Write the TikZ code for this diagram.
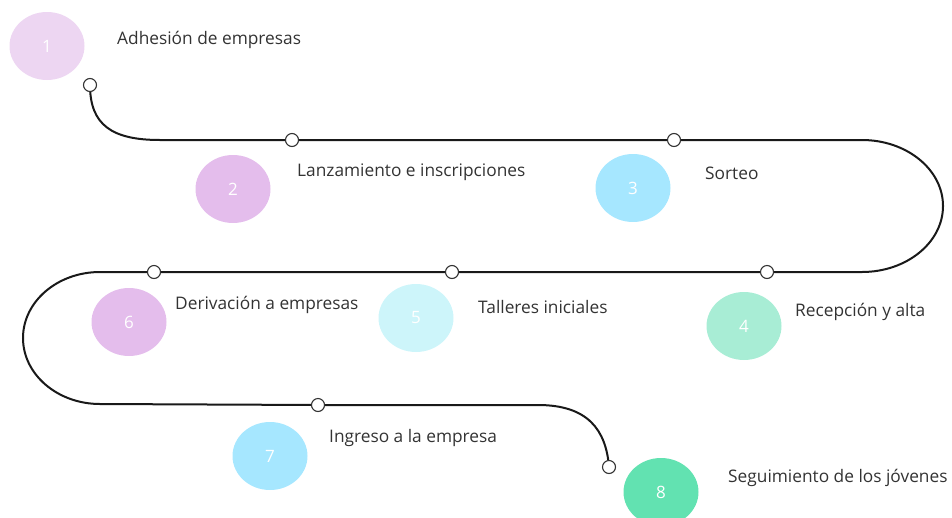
\documentclass[tikz,border=0pt]{standalone}
\usepackage{fontspec}
\setmainfont{Open Sans}
\usepackage{xcolor}
\usepackage{tikz}
\usetikzlibrary{shapes.geometric,positioning}

\definecolor{lilaA}{HTML}{EDD6F2}
\definecolor{lilaB}{HTML}{E4BDEC}
\definecolor{celeste}{HTML}{A6E7FF}
\definecolor{celesteB}{HTML}{CDF5FA}
\definecolor{mentaA}{HTML}{A8EDD5}
\definecolor{mentaB}{HTML}{62E2B1}

\tikzset{
  stepnum/.style={ellipse, minimum width=75pt, minimum height=68pt, inner sep=0pt,
    text=white, font=\fontsize{17}{20}\selectfont},
  steptext/.style={anchor=west, inner sep=0pt, text=black!80,
    font=\fontsize{17.3}{20}\selectfont},
  dot/.style={circle, draw=black!80, fill=white, line width=1.1pt,
    minimum size=13pt, inner sep=0pt},
  track/.style={line width=2pt, black!90}
}

\begin{document}
\begin{tikzpicture}[x=1pt,y=-1pt]

\useasboundingbox (0,0) rectangle (952,517);

% markers on the track
\coordinate (p1) at (90,85);
\coordinate (p2) at (292,140);
\coordinate (p3) at (674,140);
\coordinate (p4) at (767,272);
\coordinate (p5) at (452,272);
\coordinate (p6) at (154,272);
\coordinate (p7) at (318,405);
\coordinate (p8) at (609,467);

\draw[track] (p1) .. controls (90,125) and (112,140) .. (160,140) -- (p2) -- (p3)
  -- (862,140) arc[start angle=-90, end angle=90, x radius=81, y radius=66]
  -- (p4) -- (p5) -- (p6)
  -- (100,272) arc[start angle=270, end angle=90, x radius=77, y radius=66]
  -- (p7) -- (538,405) .. controls (588,405) and (606,430) .. (p8);

\foreach \i in {1,...,8}
  \node[dot] (d\i) at (p\i) {};

% numbered steps
\node[stepnum, fill=lilaA] (n1) at (47,46) {1};
\node[stepnum, fill=lilaB] (n2) at (233,189) {2};
\node[stepnum, fill=celeste] (n3) at (633,188) {3};
\node[stepnum, fill=mentaA] (n4) at (744,326) {4};
\node[stepnum, fill=celesteB] (n5) at (416,318) {5};
\node[stepnum, fill=lilaB] (n6) at (129,322) {6};
\node[stepnum, fill=celeste] (n7) at (270,456) {7};
\node[stepnum, fill=mentaB] (n8) at (661,492) {8};

\node[steptext] (t1) at (117,40) {Adhesión de empresas};
\node[steptext] (t2) at (297,172) {Lanzamiento e inscripciones};
\node[steptext] (t3) at (705,173) {Sorteo};
\node[steptext] (t4) at (795,312) {Recepción y alta};
\node[steptext] (t5) at (478,307) {Talleres iniciales};
\node[steptext] (t6) at (175,305) {Derivación a empresas};
\node[steptext] (t7) at (329,438) {Ingreso a la empresa};
\node[steptext] (t8) at (728,478) {Seguimiento de los jóvenes};

\end{tikzpicture}
\end{document}
